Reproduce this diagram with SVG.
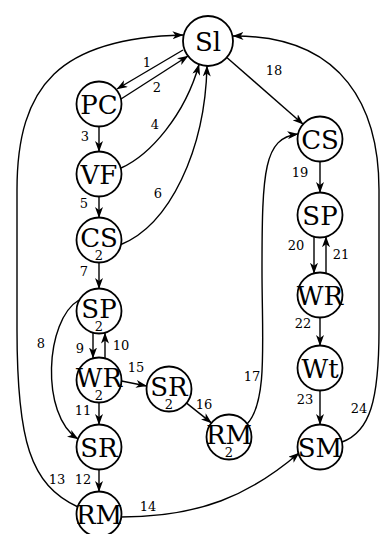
<svg xmlns="http://www.w3.org/2000/svg" width="381" height="534" viewBox="0 0 381 534">
<style>
.n circle{fill:#fff;stroke:#000;stroke-width:1.8}
.n text{font-family:"DejaVu Serif",serif;font-size:26px;text-anchor:middle;fill:#000}
.n text.s{font-size:13px}
#edges path{fill:none;stroke:#000;stroke-width:1.4;marker-end:url(#ah)}
#edges text{font-family:"DejaVu Serif",serif;font-size:13px;text-anchor:middle;fill:#000}
</style>
<defs>
<marker id="ah" markerUnits="userSpaceOnUse" viewBox="0 0 11 8" markerWidth="11" markerHeight="8" refX="10.5" refY="4" orient="auto">
<path d="M0,0 L11,4 L0,8 L3,4 Z" fill="#000"/>
</marker>
</defs>
<rect width="381" height="534" fill="#fff"/>
<g id="edges">
<path d="M183 50 L117 89"/>
<path d="M121 99 L188 56"/>
<path d="M99 126.5 L99 151.5"/>
<path d="M121 168 C150 155 185 115 199 64.5"/>
<path d="M99 196.5 L99 217.5"/>
<path d="M120 245 C170 225 205 150 207 66"/>
<path d="M99 262.5 L99 288.5"/>
<path d="M79 300 C45 320 40 415 78 439"/>
<path d="M93 333 L93 358"/>
<path d="M105 358 L105 333"/>
<path d="M99 402.5 L99 424.5"/>
<path d="M99 469.5 L99 491.5"/>
<path d="M78 507 C30 485 17 440 17 330 L17 190 C17 85 60 38 183 35"/>
<path d="M121 517 C200 517 250 495 299 453"/>
<path d="M121.5 381 L146.5 386"/>
<path d="M186.6 403.1 L211.4 422.9"/>
<path d="M247 424 C268 402 262 340 262 270 C262 170 264 138 298 134"/>
<path d="M226.8 57.5 L303.1 124.2"/>
<path d="M320 161.5 L320 192.5"/>
<path d="M314 236.7 L314 273.3"/>
<path d="M326 273.3 L326 236.7"/>
<path d="M320 317.5 L320 345.5"/>
<path d="M320 390.5 L320 424.5"/>
<path d="M342 442 C370 432 379 400 379 330 L379 190 C379 110 345 35 233 36"/>
<text x="147" y="66.5">1</text>
<text x="157" y="91.5">2</text>
<text x="85" y="140.5">3</text>
<text x="155" y="128.5">4</text>
<text x="84" y="207.5">5</text>
<text x="158" y="197.5">6</text>
<text x="84" y="275.5">7</text>
<text x="41" y="347.5">8</text>
<text x="80" y="352.5">9</text>
<text x="121" y="349.5">10</text>
<text x="136" y="371.5">15</text>
<text x="83" y="414.5">11</text>
<text x="204" y="408.5">16</text>
<text x="252" y="380.5">17</text>
<text x="83" y="483.5">12</text>
<text x="57" y="483.5">13</text>
<text x="148" y="510.5">14</text>
<text x="274" y="74.5">18</text>
<text x="300" y="176.5">19</text>
<text x="296" y="249.5">20</text>
<text x="341" y="258.5">21</text>
<text x="303" y="327.5">22</text>
<text x="305" y="403.5">23</text>
<text x="359" y="412.5">24</text>
</g>
<g id="Sl" class="n"><circle cx="208" cy="41" r="25"/><text x="208" y="50.5">Sl</text></g>
<g id="PC" class="n"><circle cx="99" cy="104" r="22.5"/><text x="99" y="113.5">PC</text></g>
<g id="VF" class="n"><circle cx="99" cy="174" r="22.5"/><text x="99" y="183.5">VF</text></g>
<g id="CS2" class="n"><circle cx="99" cy="240" r="22.5"/><text x="99" y="246.5">CS</text><text class="s" x="99" y="260">2</text></g>
<g id="SP2" class="n"><circle cx="99" cy="311" r="22.5"/><text x="99" y="317.5">SP</text><text class="s" x="99" y="331">2</text></g>
<g id="WR2" class="n"><circle cx="99" cy="380" r="22.5"/><text x="99" y="386.5">WR</text><text class="s" x="99" y="400">2</text></g>
<g id="SR" class="n"><circle cx="99" cy="447" r="22.5"/><text x="99" y="456.5">SR</text></g>
<g id="RM" class="n"><circle cx="99" cy="514" r="22.5"/><text x="99" y="523.5">RM</text></g>
<g id="SR2" class="n"><circle cx="169" cy="389" r="22.5"/><text x="169" y="395.5">SR</text><text class="s" x="169" y="409">2</text></g>
<g id="RM2" class="n"><circle cx="229" cy="437" r="22.5"/><text x="229" y="443.5">RM</text><text class="s" x="229" y="457">2</text></g>
<g id="CS" class="n"><circle cx="320" cy="139" r="22.5"/><text x="320" y="148.5">CS</text></g>
<g id="SP" class="n"><circle cx="320" cy="215" r="22.5"/><text x="320" y="224.5">SP</text></g>
<g id="WR" class="n"><circle cx="320" cy="295" r="22.5"/><text x="320" y="304.5">WR</text></g>
<g id="Wt" class="n"><circle cx="320" cy="368" r="22.5"/><text x="320" y="377.5">Wt</text></g>
<g id="SM" class="n"><circle cx="320" cy="447" r="22.5"/><text x="320" y="456.5">SM</text></g>
</svg>
